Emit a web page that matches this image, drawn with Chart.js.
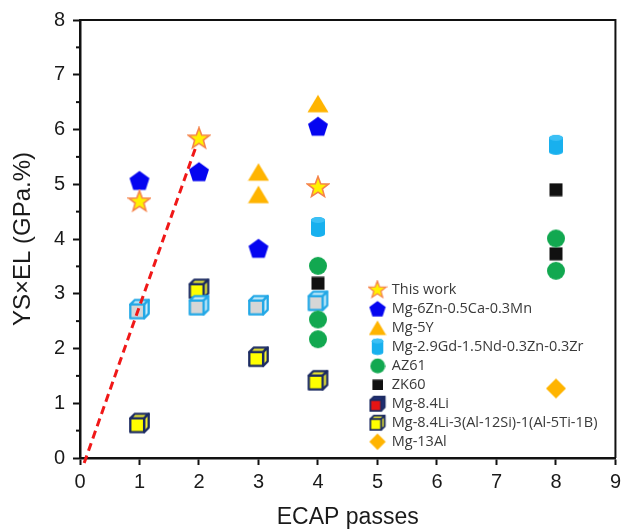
<!DOCTYPE html>
<html>
<head>
<meta charset="utf-8">
<script src="https://cdn.jsdelivr.net/npm/chart.js@4.4.1/dist/chart.umd.min.js"></script>
<style>
html, body { margin: 0; padding: 0; background: #fff; }
#wrap { width: 626px; height: 530px; }
</style>
</head>
<body>
<div id="wrap"><canvas id="chart"></canvas></div>
<script>
// series names, in legend order
const seriesNames = ['This work', 'Mg-6Zn-0.5Ca-0.3Mn', 'Mg-5Y', 'Mg-2.9Gd-1.5Nd-0.3Zn-0.3Zr',
  'AZ61', 'ZK60', 'Mg-8.4Li', 'Mg-8.4Li-3(Al-12Si)-1(Al-5Ti-1B)', 'Mg-13Al'];

// ECAP passes (x) and YS x EL (y) for each series
const thisWorkX = [1, 2, 4];
const thisWorkY = [4.69, 5.84, 4.95];
const znCaMnX = [1, 2, 3, 4];
const znCaMnY = [5.07, 5.23, 3.83, 6.06];
const mg5yX = [3, 3, 4];
const mg5yY = [5.22, 4.81, 6.47];
const gdNdX = [4, 8];
const gdNdY = [4.22, 5.72];
const az61X = [4, 4, 4, 8, 8];
const az61Y = [3.51, 2.53, 2.17, 4.01, 3.42];
const zk60X = [4, 8, 8];
const zk60Y = [3.19, 4.9, 3.73];
const li84X = [1, 2, 3, 4];
const li84Y = [2.72, 2.79, 2.79, 2.87];
const liAlX = [1, 2, 3, 4];
const liAlY = [0.64, 3.09, 1.85, 1.42];
const al13X = [8];
const al13Y = [1.27];

// red dashed guide line
const guideX = [0.07, 1.96];
const guideY = [-0.09, 5.72];

const xTicks = [0, 1, 2, 3, 4, 5, 6, 7, 8, 9];
const yTicks = [0, 1, 2, 3, 4, 5, 6, 7, 8];

function pts(xs, ys) {
  return xs.map((x, i) => ({ x: x, y: ys[i] }));
}

function marker(w, h, s, draw) {
  const c = document.createElement('canvas');
  c.width = Math.round(w * s);
  c.height = Math.round(h * s);
  const g = c.getContext('2d');
  g.scale(s, s);
  draw(g);
  return c;
}

function star(s) {
  return marker(24, 24, s, g => {
    g.beginPath();
    for (let i = 0; i < 10; i++) {
      const r = i % 2 ? 4.6 : 11;
      const a = -Math.PI / 2 + i * Math.PI / 5;
      g.lineTo(12 + r * Math.cos(a), 12.5 + r * Math.sin(a));
    }
    g.closePath();
    g.fillStyle = '#fff200';
    g.fill();
    g.lineWidth = 1.6;
    g.strokeStyle = '#f5834a';
    g.stroke();
  });
}

function pentagon(s) {
  return marker(22, 22, s, g => {
    g.beginPath();
    for (let i = 0; i < 5; i++) {
      const a = -Math.PI / 2 + i * 2 * Math.PI / 5;
      g.lineTo(11 + 10.5 * Math.cos(a), 12 + 10.5 * Math.sin(a));
    }
    g.closePath();
    g.fillStyle = '#0505f0';
    g.fill();
  });
}

function triangle(s) {
  return marker(22, 20, s, g => {
    g.beginPath();
    g.moveTo(11, 1);
    g.lineTo(21.5, 18.5);
    g.lineTo(0.5, 18.5);
    g.closePath();
    g.fillStyle = '#ffb400';
    g.fill();
  });
}

function cylinder(s) {
  return marker(16, 22, s, g => {
    g.fillStyle = '#18b0ee';
    g.beginPath();
    g.ellipse(8, 18, 7, 3, 0, 0, Math.PI);
    g.lineTo(1, 4);
    g.ellipse(8, 4, 7, 3, 0, Math.PI, 0);
    g.closePath();
    g.fill();
    g.fillStyle = '#3cc0f5';
    g.beginPath();
    g.ellipse(8, 4, 7, 3, 0, 0, Math.PI * 2);
    g.fill();
  });
}

function circle(s) {
  return marker(20, 20, s, g => {
    g.beginPath();
    g.arc(10, 10, 9, 0, Math.PI * 2);
    g.fillStyle = '#12a850';
    g.fill();
  });
}

function square(s) {
  return marker(14, 14, s, g => {
    g.fillStyle = '#111111';
    g.fillRect(0.5, 0.5, 13, 13);
  });
}

function cube(s, front, side, edge) {
  return marker(20, 20, s, g => {
    g.lineJoin = 'round';
    g.lineWidth = 2;
    g.strokeStyle = edge;
    g.fillStyle = side;
    g.beginPath();
    g.moveTo(2, 6); g.lineTo(6, 2); g.lineTo(18, 2); g.lineTo(14, 6); g.closePath();
    g.fill(); g.stroke();
    g.beginPath();
    g.moveTo(14, 6); g.lineTo(18, 2); g.lineTo(18, 14); g.lineTo(14, 18); g.closePath();
    g.fill(); g.stroke();
    g.fillStyle = front;
    g.beginPath();
    g.rect(2, 6, 12, 12);
    g.fill(); g.stroke();
  });
}

function diamond(s) {
  return marker(22, 22, s, g => {
    g.beginPath();
    g.moveTo(11, 1); g.lineTo(21, 11); g.lineTo(11, 21); g.lineTo(1, 11); g.closePath();
    g.fillStyle = '#ffb400';
    g.fill();
  });
}

function markerSet(s, cs) {
  return [
    star(s), pentagon(s), triangle(s), cylinder(s), circle(s), square(s),
    cube(cs, '#d6d6d6', '#cdeefb', '#23a8e6'),
    cube(cs, '#ffff00', '#f4f030', '#1c2b62'),
    diamond(s)
  ];
}

const plotMarks = markerSet(1, 1.15);
const legendMarks = markerSet(0.82, 0.9);
legendMarks[6] = cube(0.9, '#e61414', '#22307a', '#1c2b62');

const seriesData = [
  pts(thisWorkX, thisWorkY), pts(znCaMnX, znCaMnY), pts(mg5yX, mg5yY), pts(gdNdX, gdNdY),
  pts(az61X, az61Y), pts(zk60X, zk60Y), pts(li84X, li84Y), pts(liAlX, liAlY), pts(al13X, al13Y)
];

const datasets = [{
  label: 'guide',
  data: pts(guideX, guideY),
  showLine: true,
  borderColor: '#f01818',
  borderWidth: 3,
  borderDash: [8, 5],
  pointRadius: 0,
  clip: false
}];
seriesNames.forEach((name, i) => {
  datasets.push({
    label: name,
    data: seriesData[i],
    pointStyle: plotMarks[i],
    pointRadius: 9,
    showLine: false
  });
});

const axisFont = { family: '"Liberation Sans", Arial, sans-serif', size: 20 };

const frame = {
  id: 'frame',
  afterLayout(chart) {
    const lg = chart.legend;
    if (!lg) return;
    lg.left = 366;
    lg.top = 278;
    lg.right = lg.left + 258;
    lg.bottom = lg.top + 200;
  },
  beforeDatasetsDraw(chart) {
    const { ctx, chartArea: a, scales } = chart;
    ctx.save();
    ctx.strokeStyle = '#111';
    ctx.lineWidth = 2;
    ctx.beginPath();
    ctx.moveTo(a.left, a.top);
    ctx.lineTo(a.right, a.top);
    ctx.lineTo(a.right, a.bottom);
    ctx.stroke();
    // minor ticks on y
    const ys = scales.y;
    for (let v = 0.5; v < 8; v += 1) {
      const py = ys.getPixelForValue(v);
      ctx.beginPath();
      ctx.moveTo(a.left - 4, py);
      ctx.lineTo(a.left, py);
      ctx.stroke();
    }
    ctx.restore();
  }
};

new Chart(document.getElementById('chart'), {
  type: 'scatter',
  data: { datasets: datasets },
  plugins: [frame],
  options: {
    responsive: true,
    maintainAspectRatio: false,
    animation: false,
    events: [],
    layout: { padding: { top: 19, right: 5, left: 0, bottom: 0 } },
    plugins: {
      tooltip: { enabled: false },
      legend: {
        position: 'chartArea',
        align: 'start',
        labels: {
          usePointStyle: true,
          pointStyleWidth: 14,
          padding: 4.5,
          color: '#3a3a3a',
          font: { family: '"Open Sans", sans-serif', size: 14.5 },
          filter: item => item.datasetIndex !== 0,
          generateLabels: chart => {
            const items = Chart.defaults.plugins.legend.labels.generateLabels(chart);
            items.forEach(it => {
              if (it.datasetIndex > 0) it.pointStyle = legendMarks[it.datasetIndex - 1];
            });
            return items;
          }
        }
      }
    },
    scales: {
      x: {
        type: 'linear',
        min: 0,
        max: 9,
        afterFit: s => { s.height = 72; },
        afterBuildTicks: s => { s.ticks = xTicks.map(v => ({ value: v })); },
        ticks: { color: '#1a1a1a', font: axisFont, padding: 5, maxRotation: 0 },
        grid: { drawOnChartArea: false, drawTicks: true, tickLength: 7, tickWidth: 2, tickColor: '#111' },
        border: { display: true, color: '#111', width: 2.5 },
        title: { display: true, text: 'ECAP passes', color: '#1a1a1a',
          font: { family: '"Liberation Sans", Arial, sans-serif', size: 23 }, padding: { top: 0, bottom: -1 } }
      },
      y: {
        type: 'linear',
        min: 0,
        max: 8,
        afterFit: s => { s.width = 80; },
        afterBuildTicks: s => { s.ticks = yTicks.map(v => ({ value: v })); },
        ticks: { color: '#1a1a1a', font: axisFont, padding: 8 },
        grid: { drawOnChartArea: false, drawTicks: true, tickLength: 7, tickWidth: 2, tickColor: '#111' },
        border: { display: true, color: '#111', width: 2.5 },
        title: { display: true, text: 'YS×EL (GPa.%)', color: '#1a1a1a',
          font: { family: '"Liberation Sans", Arial, sans-serif', size: 24 }, padding: { top: 9, bottom: 0 } }
      }
    }
  }
});
</script>
</body>
</html>
